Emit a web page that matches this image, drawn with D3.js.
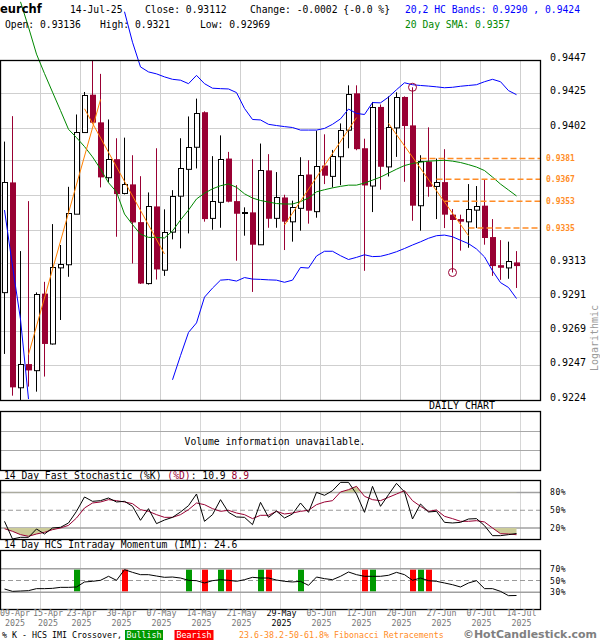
<!DOCTYPE html>
<html><head><meta charset="utf-8">
<script src="https://cdn.jsdelivr.net/npm/d3@7"></script>
<style>body{margin:0;background:#fff}svg{display:block}</style>
</head><body><svg id="c" width="600" height="640"></svg>
<script>
// ---------------- DATA ----------------
const symbol = "eurchf";
const lastDate = "14-Jul-25";
const changeText = "Change: -0.0002 {-0.0 %}";

const openP = [0.92939,0.93661,0.92322,0.92473,0.92436,0.92932,0.92604,0.93103,0.93121,0.93457,
0.93995,0.94240,0.94057,0.93694,0.93814,0.93589,0.93648,0.93400,0.92998,0.93503,
0.93090,0.93337,0.93571,0.93753,0.93897,0.94124,0.93425,0.93536,0.93818,0.93538,
0.93460,0.93464,0.93252,0.93740,0.93425,0.93562,0.93403,0.93497,0.93713,0.93475,
0.93772,0.93705,0.93836,0.94009,0.94249,0.93886,0.93641,0.94159,0.93764,0.94024,
0.94225,0.94037,0.93508,0.93799,0.93635,0.93663,0.93449,0.93420,0.93403,0.93482,
0.93508,0.93302,0.93118,0.93103,0.93136];
const highP = [0.93930,0.94098,0.93210,0.93538,0.92940,0.93009,0.93387,0.93250,0.93632,0.94109,
0.94258,0.94470,0.94378,0.94076,0.93952,0.93956,0.93840,0.93702,0.93595,0.93886,
0.93484,0.93610,0.93952,0.94096,0.94214,0.94130,0.93834,0.93971,0.93862,0.93643,
0.93497,0.93814,0.93917,0.93847,0.93729,0.93580,0.93541,0.93827,0.93807,0.94002,
0.93978,0.93875,0.94050,0.94302,0.94302,0.93949,0.94192,0.94175,0.94229,0.94256,
0.94229,0.94289,0.93840,0.94024,0.93818,0.93880,0.93486,0.93449,0.93650,0.93637,
0.93681,0.93420,0.93282,0.93272,0.93210];
const lowP = [0.92539,0.92268,0.92235,0.92327,0.92294,0.92392,0.92600,0.92760,0.93042,0.93455,
0.93990,0.94050,0.93628,0.93661,0.93304,0.93582,0.93129,0.92995,0.92991,0.93024,
0.93048,0.93287,0.93228,0.93326,0.93753,0.93403,0.93350,0.93363,0.93530,0.93147,
0.93311,0.92943,0.93250,0.93363,0.93363,0.93217,0.93272,0.93344,0.93390,0.93429,
0.93650,0.93628,0.93643,0.93886,0.93873,0.93081,0.93466,0.93613,0.93700,0.93829,
0.93665,0.93409,0.93344,0.93567,0.93420,0.93361,0.93070,0.93213,0.93232,0.93361,
0.93252,0.93048,0.93022,0.93029,0.92969];
const closeP = [0.93661,0.92322,0.92473,0.92432,0.92932,0.92604,0.93103,0.93125,0.93457,0.93995,
0.94240,0.94055,0.93694,0.93814,0.93584,0.93648,0.93398,0.92998,0.93503,0.93090,
0.93337,0.93571,0.93753,0.93897,0.94120,0.93420,0.93536,0.93818,0.93534,0.93455,
0.93464,0.93252,0.93740,0.93422,0.93562,0.93403,0.93497,0.93713,0.93475,0.93772,
0.93705,0.93836,0.94009,0.94245,0.93880,0.93641,0.94159,0.93764,0.94024,0.94225,
0.94033,0.93508,0.93799,0.93632,0.93661,0.93449,0.93414,0.93403,0.93484,0.93506,
0.93296,0.93112,0.93101,0.93145,0.93112];

const sma20 = [null,null,0.94857,0.94688,0.94509,0.94380,0.94257,0.94135,0.94011,0.93956,
0.93897,0.93829,0.93749,0.93659,0.93598,0.93453,0.93384,0.93321,0.93300,0.93300,
0.93296,0.93342,0.93414,0.93479,0.93552,0.93590,0.93619,0.93639,0.93651,0.93629,
0.93586,0.93558,0.93542,0.93532,0.93522,0.93519,0.93519,0.93535,0.93558,0.93599,
0.93613,0.93625,0.93635,0.93643,0.93643,0.93657,0.93676,0.93696,0.93722,0.93748,
0.93772,0.93786,0.93794,0.93801,0.93804,0.93807,0.93801,0.93792,0.93778,0.93762,
0.93739,0.93696,0.93650,0.93611,0.93572];
const upperBand = [null,null,null,null,null,null,null,null,null,null,
null,null,null,null,null,0.94791,0.94588,0.94424,0.94391,0.94378,
0.94358,0.94342,0.94336,0.94313,0.94368,0.94313,0.94283,0.94280,0.94278,0.94254,
0.94149,0.94076,0.94073,0.94044,0.94036,0.94029,0.94023,0.94006,0.94006,0.94006,
0.94017,0.94044,0.94080,0.94145,0.94116,0.94109,0.94188,0.94186,0.94224,0.94273,
0.94319,0.94306,0.94301,0.94297,0.94292,0.94286,0.94289,0.94296,0.94301,0.94306,
0.94326,0.94342,0.94326,0.94267,0.94240];
const lowerBand = [0.93479,0.93112,0.92764,0.92246,null,null,null,null,null,null,
null,null,null,null,null,null,null,null,null,null,
null,0.92371,0.92528,0.92679,0.92741,0.92909,0.92968,0.93020,0.93024,0.93014,
0.93037,0.93027,0.93025,0.93022,0.93020,0.93006,0.93020,0.93103,0.93099,0.93178,
0.93209,0.93209,0.93180,0.93155,0.93169,0.93186,0.93174,0.93176,0.93189,0.93206,
0.93227,0.93250,0.93271,0.93294,0.93311,0.93315,0.93304,0.93281,0.93259,0.93224,
0.93172,0.93081,0.93004,0.92972,0.92900];

const stochK = [31.4,1.7,4.5,4.5,18.5,10.1,20.2,21.3,28.6,48.2,
72.3,65.0,66.1,70.6,63.9,65.0,56.6,33.1,52.7,27.5,
33.6,38.1,47.1,57.7,77.3,31.4,42.6,67.8,46.5,38.7,
38.1,25.8,63.3,38.1,48.7,37.0,43.7,62.2,46.5,80.1,
75.1,82.9,96.9,96.9,77.3,46.5,90.2,56.6,76.2,95.2,
80.7,35.3,60.5,47.1,48.2,29.7,28.6,29.7,35.3,35.9,
24.1,7.3,7.3,9.0,10.9];
const stochD = [19.0,14.6,9.0,6.2,10.1,12.9,17.4,20.2,24.6,37.0,
53.8,62.2,63.9,67.8,66.1,63.9,61.1,51.0,48.2,42.6,
38.1,38.1,42.6,51.0,62.2,59.4,52.7,48.2,49.9,45.4,
42.6,35.9,41.5,41.5,48.2,43.7,45.4,48.2,49.9,59.4,
63.9,66.1,80.7,84.6,90.2,73.4,67.8,66.1,71.7,77.3,
82.9,66.1,56.6,48.2,50.4,39.8,35.9,31.4,31.4,32.5,
30.3,20.2,10.6,10.1,8.9];
const imiVals = [35.6,31.6,32.2,32.8,36.2,36.2,36.7,38.4,38.4,39.0,
47.5,48.6,50.3,57.1,50.3,68.4,63.8,59.9,59.9,57.6,
55.4,55.9,54.2,50.3,49.7,45.8,49.7,51.4,50.3,48.6,
51.4,55.4,54.2,54.2,50.8,48.6,47.5,48.6,41.8,55.9,
53.1,51.4,57.1,64.4,59.9,57.1,57.1,57.1,58.8,63.8,
59.9,50.3,54.2,49.7,48.6,45.8,42.9,39.0,45.8,49.7,
36.2,36.2,31.6,24.3,24.6];
const bullishIdx = [9,23,27,32,37,46,52];
const bearishIdx = [15,25,28,33,45,51,53];

const priceTicks = [0.9224,0.9247,0.9269,0.9291,0.9313,0.9335,0.9358,0.9381,0.9402,0.9425,0.9447];
const priceTickLabels = ["0.9224","0.9247","0.9269","0.9291","0.9313","0.9335","0.9358","0.9381","0.9402","0.9425","0.9447"];
const fibLevels = [0.93819,0.93681,0.93537,0.93361];
const fibLabels = ["0.9381","0.9367","0.9353","0.9335"];
const fibStartIdx = [52,54,55,58];
const swingHighIdx = 51, swingLowIdx = 56;
const zigzagFrom = [3,10,35,48];
const zigzagFromPrice = [0.92535,0.94147,0.93381,0.94050];
const zigzagTo = [12,20,44,58];
const zigzagToPrice = [0.94208,0.93191,0.94088,0.93311];

const dateLabels = ["09-Apr","15-Apr","23-Apr","30-Apr","07-May","14-May","21-May","29-May","05-Jun","12-Jun","20-Jun","27-Jun","07-Jul","14-Jul"];
const yearLabels = ["2025","2025","2025","2025","2025","2025","2025","2025","2025","2025","2025","2025","2025","2025"];
const highlightLabel = 7;
const stochLevels = [80,50,20];
const imiLevels = [70,50,30];

// ---------------- DRAW ----------------
const svg = d3.select("#c");
const MONO = "'DejaVu Sans Mono', monospace";
const RED = "#990033";
const N = closeP.length;
const PR = 540;
const main = {top:60, bottom:400};
const vol = {top:411, bottom:470};
const sto = {top:481, bottom:539};
const imp = {top:551, bottom:610};

const x = d3.scaleLinear().domain([0, 67.5]).range([0, PR]);
const y = d3.scaleLog().domain([0.9224, 0.9447]).range([main.bottom, main.top]);
const yS = d3.scaleLinear().domain([0, 100]).range([540, 480.5]);
const yI = d3.scaleLinear().domain([0, 100]).range([610, 551]);
const cx = i => x(i) + 4.5;
const crisp = v => Math.round(v) + 0.5;
const idx = d3.range(N);
const weekLines = d3.range(1, 14).map(k => 5 * k);

const defs = svg.append("defs");
defs.append("clipPath").attr("id","mainClip").append("rect").attr("x",0).attr("y",0).attr("width",PR).attr("height",main.bottom);
defs.append("clipPath").attr("id","candleClip").append("rect").attr("x",0).attr("y",main.top).attr("width",PR).attr("height",main.bottom-main.top);
defs.append("clipPath").attr("id","stoTop").append("rect").attr("x",0).attr("y",sto.top).attr("width",PR).attr("height",yS(80)-sto.top);
defs.append("clipPath").attr("id","stoBot").append("rect").attr("x",0).attr("y",yS(20)).attr("width",PR).attr("height",sto.bottom-yS(20));

// ---- main panel grid
const g = svg.append("g");
g.selectAll(".vg").data(weekLines).join("line")
  .attr("x1", d => crisp(x(d))).attr("x2", d => crisp(x(d)))
  .attr("y1", main.top).attr("y2", main.bottom)
  .attr("stroke", "#cfcfcf").attr("stroke-width", 1);
g.selectAll(".hg").data(priceTicks.slice(1, -1)).join("line")
  .attr("x1", 0).attr("x2", PR)
  .attr("y1", d => crisp(y(d))).attr("y2", d => crisp(y(d)))
  .attr("stroke", "#cfcfcf").attr("stroke-width", 1);

// ---- candles
const cg = svg.append("g").attr("clip-path","url(#candleClip)");
const isUp = i => closeP[i] >= openP[i];
cg.selectAll(".wick").data(idx).join("line")
  .attr("x1", i => cx(i)).attr("x2", i => cx(i))
  .attr("y1", i => y(highP[i])).attr("y2", i => y(lowP[i]))
  .attr("stroke", i => isUp(i) ? "#000" : RED).attr("stroke-width", 1);
cg.selectAll(".body").data(idx).join("rect")
  .attr("x", i => isUp(i) ? x(i) + 2.5 : x(i) + 2)
  .attr("width", i => isUp(i) ? 5 : 6)
  .attr("y", i => {
    const t = y(Math.max(openP[i], closeP[i]));
    return isUp(i) ? Math.round(t) + 0.5 : t;
  })
  .attr("height", i => Math.max(1, Math.abs(y(openP[i]) - y(closeP[i]))))
  .attr("fill", i => isUp(i) ? "#fff" : RED)
  .attr("stroke", i => isUp(i) ? "#000" : "none").attr("stroke-width", 1);

// ---- indicator lines in main panel
const lg = svg.append("g").attr("clip-path","url(#mainClip)");
const lineGen = arr => d3.line().defined(i => arr[i] != null).x(i => cx(i)).y(i => y(arr[i]))(idx);
lg.append("path").attr("d", lineGen(upperBand)).attr("fill","none").attr("stroke","#0000ff").attr("stroke-width",1);
lg.append("path").attr("d", lineGen(lowerBand)).attr("fill","none").attr("stroke","#0000ff").attr("stroke-width",1);
lg.append("path").attr("d", lineGen(sma20)).attr("fill","none").attr("stroke","#008800").attr("stroke-width",1);

// zigzag
zigzagFrom.forEach((a, k) => {
  lg.append("line")
    .attr("x1", cx(a)).attr("y1", y(zigzagFromPrice[k]))
    .attr("x2", cx(zigzagTo[k])).attr("y2", y(zigzagToPrice[k]))
    .attr("stroke", "#ff8000").attr("stroke-width", 1);
});
// fib levels
fibLevels.forEach((lv, k) => {
  lg.append("line")
    .attr("x1", cx(fibStartIdx[k])).attr("x2", PR)
    .attr("y1", y(lv)).attr("y2", y(lv))
    .attr("stroke", "#ff8c26").attr("stroke-width", 1.5).attr("stroke-dasharray", "6,3");
  svg.append("text").attr("x", 546).attr("y", y(lv) + 3)
    .attr("font-family", MONO).attr("font-size", 8).attr("font-weight","bold")
    .attr("fill", "#ff8c26").text(fibLabels[k]);
});
// swing markers
[[swingHighIdx, highP[swingHighIdx]], [swingLowIdx, lowP[swingLowIdx]]].forEach(([i, p]) => {
  lg.append("circle").attr("cx", cx(i)).attr("cy", y(p)).attr("r", 4)
    .attr("fill","none").attr("stroke", RED).attr("stroke-width", 1);
});

// main border
svg.append("rect").attr("x",0.5).attr("y",main.top+0.5).attr("width",PR).attr("height",main.bottom-main.top)
  .attr("fill","none").attr("stroke","#000").attr("stroke-width",1.3);

// price labels
priceTicks.forEach((v, k) => {
  const py = y(v);
  const clash = fibLevels.some(f => Math.abs(y(f) - py) < 9);
  if (clash) return;
  svg.append("text").attr("x", 550).attr("y", py + 1)
    .attr("font-family", MONO).attr("font-size", 10).attr("fill", "#000")
    .text(priceTickLabels[k]);
});
svg.append("text").attr("transform","translate(598,338) rotate(-90)")
  .attr("text-anchor","middle").attr("font-family",MONO).attr("font-size",10).attr("fill","#9a9a9a")
  .text("Logarithmic");
svg.append("text").attr("x", 462).attr("y", 409).attr("text-anchor","middle")
  .attr("font-family",MONO).attr("font-size",10).text("DAILY CHART");

// ---- header
const hdr = svg.append("g").attr("font-family", MONO).attr("font-size", 9.7);
svg.append("text").attr("x",0).attr("y",13).attr("font-family","'DejaVu Sans', sans-serif")
  .attr("font-weight","bold").attr("font-size",11.5).text(symbol);
hdr.append("text").attr("x",70).attr("y",13).text(lastDate);
hdr.append("text").attr("x",145).attr("y",13).text("Close: " + closeP[N-1].toFixed(5));
hdr.append("text").attr("x",250).attr("y",13).text(changeText);
hdr.append("text").attr("x",405).attr("y",13).attr("fill","#0000ff")
  .text("20,2 HC Bands: " + lowerBand[N-1].toFixed(4) + " , " + upperBand[N-1].toFixed(4));
hdr.append("text").attr("x",5).attr("y",28).text("Open: " + openP[N-1].toFixed(5));
hdr.append("text").attr("x",100).attr("y",28).text("High: " + highP[N-1].toFixed(4));
hdr.append("text").attr("x",200).attr("y",28).text("Low: " + lowP[N-1].toFixed(5));
hdr.append("text").attr("x",405).attr("y",28).attr("fill","#008800")
  .text("20 Day SMA: " + sma20[N-1].toFixed(4));

// ---- volume panel
const vg = svg.append("g");
vg.selectAll(".vv").data(weekLines).join("line")
  .attr("x1", d => crisp(x(d))).attr("x2", d => crisp(x(d)))
  .attr("y1", vol.top).attr("y2", vol.bottom).attr("stroke","#d6d6d6");
[1,2].forEach(k => {
  const yy = crisp(vol.top + (vol.bottom - vol.top) * k / 3);
  vg.append("line").attr("x1",0).attr("x2",PR).attr("y1",yy).attr("y2",yy).attr("stroke","#a8a8a8");
});
vg.append("text").attr("x",275).attr("y",445).attr("text-anchor","middle")
  .attr("font-family",MONO).attr("font-size",9.7).text("Volume information unavailable.");
svg.append("rect").attr("x",0.5).attr("y",vol.top+0.5).attr("width",PR).attr("height",vol.bottom-vol.top)
  .attr("fill","none").attr("stroke","#000").attr("stroke-width",1.3);

// ---- oscillator panel helper
function levelLines(gp, levels, sc, top, bottom) {
  gp.selectAll(".ov").data(weekLines).join("line")
    .attr("x1", d => crisp(x(d))).attr("x2", d => crisp(x(d)))
    .attr("y1", top).attr("y2", bottom).attr("stroke","#d6d6d6");
  levels.forEach(lv => {
    const yy = sc(lv);
    const mid = lv === 50;
    gp.append("line").attr("x1",0).attr("x2",PR).attr("y1",yy).attr("y2",yy)
      .attr("stroke", mid ? "#9a9a9a" : "#a0a0a0").attr("stroke-width", mid ? 1 : 1.5)
      .attr("stroke-dasharray", mid ? "5,3" : null);
    svg.append("text").attr("x",550).attr("y",yy+3).attr("font-family",MONO)
      .attr("font-size",8).attr("letter-spacing",0.6).text(lv + "%");
  });
}

// ---- stochastic
svg.append("text").attr("x",4).attr("y",479).attr("font-family",MONO).attr("font-size",9.7)
  .call(t => {
    t.append("tspan").text("14 Day Fast Stochastic (%K) ");
    t.append("tspan").attr("fill",RED).text("(%D)");
    t.append("tspan").text(": " + stochK[N-1].toFixed(1) + "  ");
    t.append("tspan").attr("fill",RED).text(stochD[N-1].toFixed(1));
  });
const sg = svg.append("g");
levelLines(sg, stochLevels, yS, sto.top, sto.bottom);
const areaTop = d3.area().x(i => cx(i)).y0(yS(80)).y1(i => yS(stochD[i]));
const areaBot = d3.area().x(i => cx(i)).y0(yS(20)).y1(i => yS(stochD[i]));
sg.append("path").attr("d", areaTop(idx)).attr("fill","#cccc99").attr("clip-path","url(#stoTop)");
sg.append("path").attr("d", areaBot(idx)).attr("fill","#cccc99").attr("clip-path","url(#stoBot)");
sg.append("path").attr("d", d3.line().x(i => cx(i)).y(i => yS(stochD[i]))(idx))
  .attr("fill","none").attr("stroke",RED).attr("stroke-width",1);
sg.append("path").attr("d", d3.line().x(i => cx(i)).y(i => yS(stochK[i]))(idx))
  .attr("fill","none").attr("stroke","#000").attr("stroke-width",1);
svg.append("rect").attr("x",0.5).attr("y",sto.top-0.5).attr("width",PR).attr("height",sto.bottom-sto.top+1)
  .attr("fill","none").attr("stroke","#000").attr("stroke-width",1.3);

// ---- IMI
svg.append("text").attr("x",4).attr("y",548).attr("font-family",MONO).attr("font-size",9.7)
  .text("14 Day HCS Intraday Momentum (IMI): " + imiVals[N-1].toFixed(1));
const ig = svg.append("g");
levelLines(ig, imiLevels, yI, imp.top, imp.bottom);
ig.selectAll(".bull").data(bullishIdx).join("rect")
  .attr("x", i => x(i) + 2).attr("width", 6)
  .attr("y", yI(70) + 1).attr("height", yI(30) - yI(70) - 2).attr("fill","#009900");
ig.selectAll(".bear").data(bearishIdx).join("rect")
  .attr("x", i => x(i) + 2).attr("width", 6)
  .attr("y", yI(70) + 1).attr("height", yI(30) - yI(70) - 2).attr("fill","#ff0000");
ig.append("path").attr("d", d3.line().x(i => cx(i)).y(i => yI(imiVals[i]))(idx))
  .attr("fill","none").attr("stroke","#000").attr("stroke-width",1);
svg.append("rect").attr("x",0.5).attr("y",imp.top-0.5).attr("width",PR).attr("height",imp.bottom-imp.top)
  .attr("fill","none").attr("stroke","#000").attr("stroke-width",1.3);

// ---- date labels
let prevRight = -Infinity;
dateLabels.forEach((lab, k) => {
  const w = lab.length * 5;
  let left = x(5 * k) + 1.5 - w / 2;
  if (left < 0) left = 0;
  if (left < prevRight + 3) left = prevRight + 3;
  prevRight = left + w;
  const c = left + w / 2;
  const hl = k === highlightLabel;
  svg.append("text").attr("x", c).attr("y", 616).attr("text-anchor","middle")
    .attr("font-family",MONO).attr("font-size",8.3).attr("fill", hl ? "#000" : "#777")
    .text(lab);
  svg.append("text").attr("x", c).attr("y", 626).attr("text-anchor","middle")
    .attr("font-family",MONO).attr("font-size",8.3).attr("fill", hl ? "#000" : "#777")
    .text(yearLabels[k]);
});

// ---- footer
svg.append("text").attr("x",2).attr("y",638).attr("font-family",MONO).attr("font-size",8.3)
  .text("% K - HCS IMI Crossover,");
svg.append("rect").attr("x",125).attr("y",630).attr("width",38).attr("height",10).attr("fill","#009900");
svg.append("text").attr("x",144).attr("y",638).attr("text-anchor","middle").attr("font-family",MONO)
  .attr("font-size",8.3).attr("fill","#fff").text("Bullish");
svg.append("rect").attr("x",174.5).attr("y",630).attr("width",39).attr("height",10).attr("fill","#ff0000");
svg.append("text").attr("x",194).attr("y",638).attr("text-anchor","middle").attr("font-family",MONO)
  .attr("font-size",8.3).attr("fill","#fff").text("Bearish");
svg.append("text").attr("x",239).attr("y",638).attr("font-family",MONO).attr("font-size",8.3)
  .attr("fill","#ff8c26").text("23.6-38.2-50-61.8% Fibonacci Retracements");
svg.append("text").attr("x",463).attr("y",638).attr("font-family","'DejaVu Sans', sans-serif")
  .attr("font-weight","bold").attr("font-size",11).attr("fill","#808080")
  .attr("textLength",134).attr("lengthAdjust","spacingAndGlyphs").text("\u00a9HotCandlestick.com");
</script>
</body></html>
